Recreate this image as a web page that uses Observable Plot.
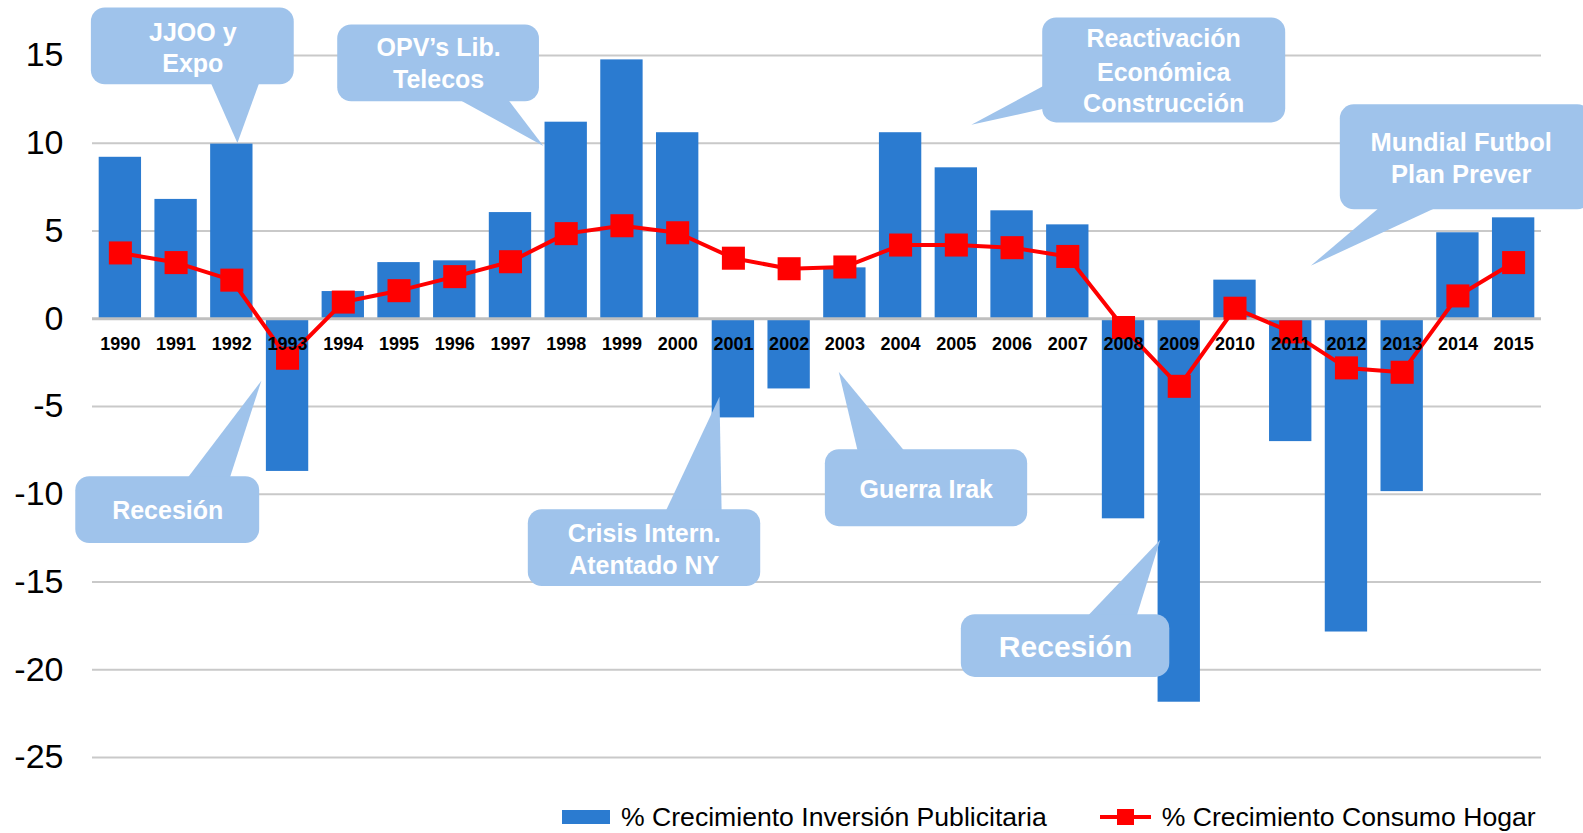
<!DOCTYPE html>
<html>
<head>
<meta charset="utf-8">
<script src="https://cdn.jsdelivr.net/npm/d3@7"></script>
<script src="https://cdn.jsdelivr.net/npm/@observablehq/plot@0.6"></script>
<style>
  html, body { margin: 0; padding: 0; background: #fff; overflow: hidden; }
  #chart svg { display: block; }
  .legend { height: 32px; padding-top: 11px; display: flex; align-items: center; padding-left: 562px;
            font-family: "Liberation Sans", Arial, Helvetica, sans-serif; font-size: 26.6px; color: #000; }
  .legend .item { display: flex; align-items: center; }
  .legend svg { display: block; margin-right: 11px; }
</style>
</head>
<body>
<div id="chart"></div>
<div class="legend" id="legend"></div>
<script>
// ---- Data ----
const years = [1990,1991,1992,1993,1994,1995,1996,1997,1998,1999,2000,2001,2002,2003,2004,2005,2006,2007,2008,2009,2010,2011,2012,2013,2014,2015];
const inversionPublicitaria = [9.2,6.8,9.95,-8.7,1.55,3.2,3.3,6.05,11.2,14.75,10.6,-5.65,-4.0,2.9,10.6,8.6,6.15,5.35,-11.4,-21.85,2.2,-7.0,-17.85,-9.85,4.9,5.75];
const consumoHogar = [3.75,3.2,2.2,-2.25,0.95,1.6,2.4,3.25,4.85,5.3,4.9,3.45,2.85,2.95,4.2,4.2,4.05,3.55,-0.5,-3.85,0.6,-0.75,-2.8,-3.05,1.3,3.2];
const yTicks = [-25,-20,-15,-10,-5,0,5,10,15];
const seriesNames = ["% Crecimiento Inversión Publicitaria", "% Crecimiento Consumo Hogar"];

// Annotation callouts (in data units: x = year, y = %)
const calloutBoxes = [
  {x1:1989.48, x2:1993.12, y1:13.33, y2:17.71},
  {x1:1993.90, x2:1997.52, y1:12.36, y2:16.74},
  {x1:2006.55, x2:2010.91, y1:11.16, y2:17.14},
  {x1:2011.89, x2:2016.40, y1:6.21,  y2:12.19},
  {x1:1989.20, x2:1992.50, y1:-9.00, y2:-12.81},
  {x1:1997.32, x2:2001.49, y1:-10.88,y2:-15.26},
  {x1:2002.65, x2:2006.28, y1:-7.46, y2:-11.85},
  {x1:2005.09, x2:2008.83, y1:-16.86,y2:-20.44}
];
const calloutPointers = [
  {id:1, pts:[[1991.60,13.6],[1992.51,13.6],[1992.10,10.02]]},
  {id:2, pts:[[1996.01,12.6],[1996.93,12.6],[1997.59,9.85]]},
  {id:3, pts:[[2006.8,13.67],[2006.8,12.13],[2005.27,11.05]]},
  {id:4, pts:[[2012.65,6.5],[2013.72,6.5],[2011.36,3.02]]},
  {id:5, pts:[[1991.15,-9.3],[1991.94,-9.3],[1992.53,-3.53]]},
  {id:6, pts:[[1999.75,-11.2],[2000.79,-11.2],[2000.75,-4.44]]},
  {id:7, pts:[[2003.25,-7.8],[2004.14,-7.8],[2002.89,-3.02]]},
  {id:8, pts:[[2007.28,-17.2],[2008.21,-17.2],[2008.66,-12.59]]}
];
const calloutTexts = [
  {x:1991.30, y:16.29, text:"JJOO y", size:25},
  {x:1991.30, y:14.52, text:"Expo", size:25},
  {x:1995.71, y:15.43, text:"OPV’s Lib.", size:25},
  {x:1995.71, y:13.61, text:"Telecos", size:25},
  {x:2008.72, y:15.95, text:"Reactivación", size:25},
  {x:2008.72, y:14.01, text:"Económica", size:25},
  {x:2008.72, y:12.24, text:"Construcción", size:25},
  {x:2014.06, y:10.02, text:"Mundial Futbol", size:25.5},
  {x:2014.06, y:8.20,  text:"Plan Prever", size:25.5},
  {x:1990.85, y:-10.93, text:"Recesión", size:25},
  {x:1999.40, y:-12.24, text:"Crisis Intern.", size:25},
  {x:1999.40, y:-14.07, text:"Atentado NY", size:25},
  {x:2004.46, y:-9.74, text:"Guerra Irak", size:25},
  {x:2006.96, y:-18.74, text:"Recesión", size:30}
];

// ---- Build ----
const BLUE = "#2b7bd0", RED = "#ff0000", CALL = "#9fc3eb";
const FONT = "Liberation Sans, Arial, Helvetica, sans-serif";
const data = years.map((y, i) => ({year: y, inv: inversionPublicitaria[i], cons: consumoHogar[i]}));
const pointerRows = calloutPointers.flatMap(p => p.pts.map(([x, y]) => ({id: p.id, x, y})));

const chart = Plot.plot({
  width: 1583,
  height: 790,
  marginLeft: 92,
  marginRight: 42,
  marginTop: 55,
  marginBottom: 33,
  style: {fontFamily: FONT, background: "#fff"},
  x: {domain: [1989.5, 2015.5], axis: null},
  y: {domain: [-25, 15], axis: null},
  marks: [
    Plot.ruleY(yTicks.filter(d => d !== 0), {stroke: "#c9c9c9", strokeWidth: 2}),
    Plot.axisY(yTicks, {tickSize: 0, tickPadding: 29, fontSize: 34, tickFormat: d => String(d), fill: "#000"}),
    Plot.rectY(data, {x1: d => d.year - 0.38, x2: d => d.year + 0.38, y1: 0, y2: "inv", fill: BLUE}),
    Plot.ruleY([0], {stroke: "#bfbfbf", strokeWidth: 3}),
    Plot.line(data, {x: "year", y: "cons", stroke: RED, strokeWidth: 4}),
    Plot.dot(data, {x: "year", y: "cons", symbol: "square", r: 13, fill: RED, stroke: "none"}),
    Plot.text(data, {x: "year", y: 0, dy: 25, text: d => String(d.year), fontWeight: "bold", fontSize: 18, fill: "#000"}),
    Plot.line(pointerRows, {x: "x", y: "y", z: "id", fill: CALL, stroke: "none", curve: "linear-closed"}),
    Plot.rect(calloutBoxes, {x1: "x1", x2: "x2", y1: "y1", y2: "y2", fill: CALL, rx: 14}),
    Plot.text(calloutTexts, {x: "x", y: "y", text: "text", fontSize: d => d.size, fontWeight: "bold", fill: "#fff"})
  ]
});
document.getElementById("chart").append(chart);

// Legend
const lg = document.getElementById("legend");
lg.innerHTML = `
  <div class="item"><svg width="48" height="14"><rect width="48" height="14" fill="${BLUE}"/></svg><span>${seriesNames[0]}</span></div>
  <div class="item" style="margin-left:53px"><svg width="51" height="20"><line x1="0" x2="51" y1="10" y2="10" stroke="${RED}" stroke-width="4"/><rect x="17" y="2" width="17" height="16" fill="${RED}"/></svg><span>${seriesNames[1]}</span></div>`;
</script>
</body>
</html>
